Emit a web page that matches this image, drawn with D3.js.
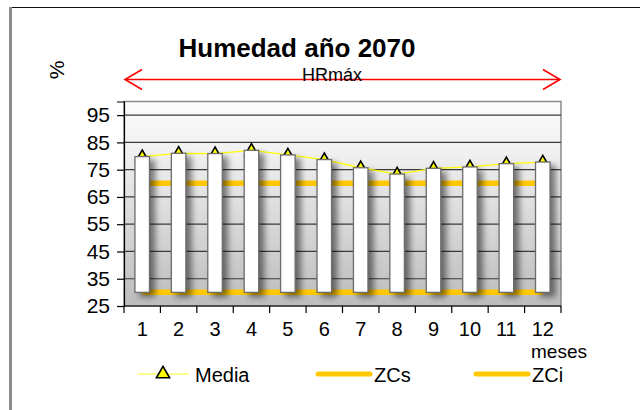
<!DOCTYPE html>
<html>
<head>
<meta charset="utf-8">
<script src="https://cdn.jsdelivr.net/npm/d3@7"></script>
<style>
  body { margin: 0; background: #fff; }
  text { font-family: "Liberation Sans", Arial, sans-serif; }
</style>
</head>
<body>
<div id="chart"></div>
<script>
var meses = ["1", "2", "3", "4", "5", "6", "7", "8", "9", "10", "11", "12"];
var media = [79.8, 81.0, 80.9, 82.1, 80.4, 78.7, 75.7, 73.4, 75.5, 76.0, 77.2, 77.8];
var zcs = [70, 70, 70, 70, 70, 70, 70, 70, 70, 70, 70, 70];
var zci = [30, 30, 30, 30, 30, 30, 30, 30, 30, 30, 30, 30];
var yTicks = [25, 35, 45, 55, 65, 75, 85, 95];

var padding = {top: 101.5, left: 124, right: 79, bottom: 104};
var width = 640 - padding.left - padding.right;
var height = 410 - padding.top - padding.bottom;

var svg = d3.select("#chart").append("svg")
    .attr("width", 640)
    .attr("height", 410);

var defs = svg.append("defs");
var grad = defs.append("linearGradient")
    .attr("id", "bg")
    .attr("x1", 0).attr("y1", 0).attr("x2", 0).attr("y2", 1);
grad.append("stop").attr("offset", "0%").attr("stop-color", "#fbfbfb");
grad.append("stop").attr("offset", "22%").attr("stop-color", "#f2f2f2");
grad.append("stop").attr("offset", "100%").attr("stop-color", "#bcbcbc");

var shadow = defs.append("filter")
    .attr("id", "shadow")
    .attr("x", "-50%").attr("y", "-20%")
    .attr("width", "250%").attr("height", "140%");
shadow.append("feGaussianBlur").attr("in", "SourceAlpha").attr("stdDeviation", 3);
shadow.append("feOffset").attr("dx", 5).attr("dy", 4).attr("result", "off");
shadow.append("feComponentTransfer").append("feFuncA").attr("type", "linear").attr("slope", 0.5);

// outer chart border
svg.append("line").attr("x1", 10).attr("x2", 640).attr("y1", 7.5).attr("y2", 7.5)
  .attr("stroke", "#111").attr("stroke-width", 1.2);
svg.append("line").attr("x1", 10.5).attr("x2", 10.5).attr("y1", 7).attr("y2", 410)
  .attr("stroke", "#8c8c8c").attr("stroke-width", 3);

var x = d3.scaleBand()
  .domain(meses)
  .range([0, width]);
var y = d3.scaleLinear()
  .domain([25, 100])
  .range([height, 0]);

var canvas = svg.append("g")
    .attr("transform", "translate(" + padding.left + ", " + padding.top + ")");

canvas.append("rect")
  .attr("width", width)
  .attr("height", height)
  .attr("fill", "url(#bg)")
  .attr("stroke", "#8a8a8a")
  .attr("stroke-width", 1.5);

// gridlines
canvas.selectAll(".grid")
  .data(yTicks.slice(1))
  .enter().append("line")
  .attr("class", "grid")
  .attr("x1", 0).attr("x2", width)
  .attr("y1", function(d) { return y(d); })
  .attr("y2", function(d) { return y(d); })
  .attr("stroke", "#3a3a3a")
  .attr("stroke-width", 1.2);

var cx = function(d, i) { return x(meses[i]) + x.bandwidth() / 2; };

// ZCs / ZCi bands
var line = d3.line()
  .x(function(d, i) { return cx(d, i); })
  .y(function(d) { return y(d); });

[zcs, zci].forEach(function(s) {
  canvas.append("path")
    .datum(s)
    .attr("d", line)
    .attr("fill", "none")
    .attr("stroke", "#ffc800")
    .attr("stroke-width", 5.5);
});

// media line + markers (drawn under the bars)
canvas.append("path")
  .datum(media)
  .attr("d", line)
  .attr("fill", "none")
  .attr("stroke", "#ffff00")
  .attr("stroke-width", 1.3);

var tri = d3.symbol().type(d3.symbolTriangle).size(75);
canvas.selectAll(".mk")
  .data(media)
  .enter().append("path")
  .attr("class", "mk")
  .attr("d", tri)
  .attr("transform", function(d, i) { return "translate(" + cx(d, i) + "," + (y(d) + 1) + ")"; })
  .attr("fill", "#ffff00")
  .attr("stroke", "#000")
  .attr("stroke-width", 1.6);

// floating bars from ZCi to media
var barW = 14.5;
canvas.selectAll(".bar")
  .data(media)
  .enter().append("rect")
  .attr("class", "bar")
  .attr("x", function(d, i) { return cx(d, i) - barW / 2; })
  .attr("width", barW)
  .attr("y", function(d) { return y(d); })
  .attr("height", function(d, i) { return y(zci[i]) - y(d); })
  .attr("fill", "#fff")
  .attr("stroke", "#6e6e6e")
  .attr("stroke-width", 1.3)
  .attr("filter", "url(#shadow)");

canvas.selectAll(".bar2")
  .data(media)
  .enter().append("rect")
  .attr("x", function(d, i) { return cx(d, i) - barW / 2; })
  .attr("width", barW)
  .attr("y", function(d) { return y(d); })
  .attr("height", function(d, i) { return y(zci[i]) - y(d); })
  .attr("fill", "#fff")
  .attr("stroke", "#6e6e6e")
  .attr("stroke-width", 1.3);

// axes
var yAxis = d3.axisLeft(y).tickValues(yTicks).tickSize(7).tickPadding(7);

var gy = canvas.append("g").call(yAxis);
gy.select(".domain").attr("stroke", "#000").attr("stroke-width", 1.2);
gy.selectAll(".tick line").attr("stroke", "#000").attr("stroke-width", 1.2);
gy.selectAll("text").attr("font-size", 21).attr("fill", "#000")
  .attr("font-family", "Liberation Sans, Arial, sans-serif");

var gx = canvas.append("g")
  .attr("transform", "translate(0, " + height + ")");
gx.append("line").attr("x1", 0).attr("x2", width).attr("stroke", "#000").attr("stroke-width", 1.2);
gx.selectAll(".xt")
  .data(d3.range(meses.length + 1))
  .enter().append("line")
  .attr("x1", function(i) { return i * x.step(); })
  .attr("x2", function(i) { return i * x.step(); })
  .attr("y1", 0).attr("y2", 7)
  .attr("stroke", "#000").attr("stroke-width", 1.2);
gx.selectAll(".xl")
  .data(meses)
  .enter().append("text")
  .attr("x", function(d) { return x(d) + x.bandwidth() / 2; })
  .attr("y", 30)
  .attr("text-anchor", "middle")
  .attr("font-size", 20)
  .text(function(d) { return d; });

// titles
svg.append("text")
  .attr("x", 297).attr("y", 57)
  .attr("text-anchor", "middle")
  .attr("font-size", 26).attr("font-weight", "bold")
  .text("Humedad año 2070");

svg.append("text")
  .attr("transform", "translate(64, 70) rotate(-90)")
  .attr("text-anchor", "middle")
  .attr("font-size", 21)
  .text("%");

svg.append("text")
  .attr("x", 531).attr("y", 358)
  .attr("font-size", 19)
  .text("meses");

// HRmáx arrow
var ay = 79.5, ax1 = padding.left + 1, ax2 = padding.left + width - 1;
var arrow = svg.append("g").attr("stroke", "#ff0000").attr("stroke-width", 1.6).attr("fill", "none");
arrow.append("line").attr("x1", ax1).attr("x2", ax2).attr("y1", ay).attr("y2", ay);
arrow.append("path").attr("d", "M" + (ax1 + 17) + "," + (ay - 10) + "L" + ax1 + "," + ay + "L" + (ax1 + 17) + "," + (ay + 10));
arrow.append("path").attr("d", "M" + (ax2 - 17) + "," + (ay - 10) + "L" + ax2 + "," + ay + "L" + (ax2 - 17) + "," + (ay + 10));
svg.append("text")
  .attr("x", 332).attr("y", 81)
  .attr("text-anchor", "middle")
  .attr("font-family", "Lato, sans-serif")
  .attr("font-size", 18)
  .text("HRmáx");

// legend
var lg = svg.append("g").attr("transform", "translate(0, 374)");
lg.append("line").attr("x1", 138).attr("x2", 189).attr("stroke", "#ffff66").attr("stroke-width", 1.3);
lg.append("path").attr("d", d3.symbol().type(d3.symbolTriangle).size(75))
  .attr("transform", "translate(163, 0)")
  .attr("fill", "#ffff00").attr("stroke", "#000").attr("stroke-width", 1.6);
lg.append("text").attr("x", 195).attr("y", 7.5).attr("font-size", 20).text("Media");
lg.append("line").attr("x1", 318).attr("x2", 370).attr("stroke", "#ffc800").attr("stroke-width", 5).attr("stroke-linecap", "round");
lg.append("text").attr("x", 374).attr("y", 7.5).attr("font-size", 20).text("ZCs");
lg.append("line").attr("x1", 476).attr("x2", 528).attr("stroke", "#ffc800").attr("stroke-width", 5).attr("stroke-linecap", "round");
lg.append("text").attr("x", 532).attr("y", 7.5).attr("font-size", 20).text("ZCi");
</script>
</body>
</html>
